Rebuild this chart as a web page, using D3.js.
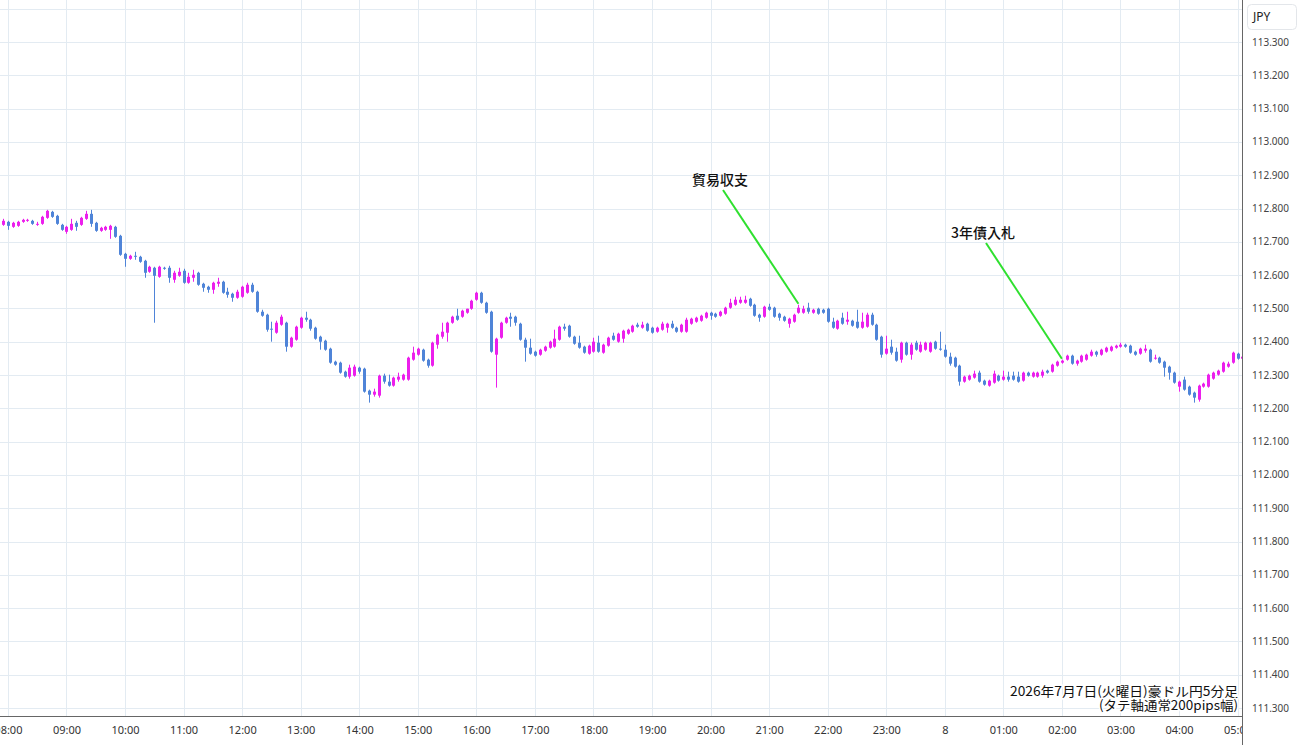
<!DOCTYPE html>
<html>
<head>
<meta charset="utf-8">
<title>AUD/JPY 5min</title>
<script src="https://d3js.org/d3.v7.min.js"></script>
<style>
  body { margin: 0; background: #fff; font-family: "Noto Sans", "Noto Sans CJK JP", sans-serif; }
  .grid line { stroke: #e3ebf2; stroke-width: 1; shape-rendering: crispEdges; }
  .xaxis text { fill: #333; font-size: 11px; font-family: "Noto Sans", sans-serif; }
  .price { fill: #444; font-size: 10px; }
  .note { font-family: "Noto Sans CJK JP", sans-serif; font-size: 14px; fill: #111; }
</style>
</head>
<body>
<div id="chart"></div>
<script>
const W = 1300, H = 745;
const plotRight = 1242, axisY = 716;

// 5 minute candles, first one at 07:55 on 2026-07-07
const startTime = new Date(2026, 6, 7, 7, 55);
const stepMinutes = 5;

const opens = [
  112.751,
  112.760,112.745,112.748,112.760,112.763,112.763,112.751,112.754,112.772,112.790,112.778,112.751,
  112.730,112.736,112.757,112.751,112.769,112.784,112.757,112.733,112.736,112.736,112.745,112.718,
  112.664,112.649,112.658,112.655,112.643,112.610,112.622,112.595,112.622,112.622,112.586,112.598,
  112.613,112.577,112.592,112.607,112.574,112.565,112.556,112.574,112.580,112.550,112.544,112.532,
  112.535,112.547,112.571,112.550,112.490,112.481,112.439,112.427,112.451,112.457,112.385,112.406,
  112.442,112.472,112.466,112.442,112.415,112.403,112.379,112.340,112.337,112.310,112.295,112.298,
  112.322,112.319,112.253,112.241,112.238,112.298,112.280,112.268,112.286,112.286,112.286,112.346,
  112.361,112.376,112.346,112.328,112.391,112.415,112.427,112.457,112.478,112.475,112.487,112.499,
  112.526,112.547,112.517,112.490,112.361,112.412,112.457,112.475,112.475,112.454,112.406,112.382,
  112.370,112.361,112.373,112.382,112.385,112.406,112.445,112.448,112.415,112.397,112.385,112.364,
  112.370,112.397,112.367,112.388,112.418,112.400,112.409,112.424,112.430,112.451,112.442,112.454,
  112.442,112.430,112.436,112.442,112.454,112.442,112.430,112.430,112.454,112.460,112.463,112.472,
  112.487,112.484,112.478,112.484,112.502,112.511,112.517,112.517,112.529,112.511,112.481,112.475,
  112.505,112.502,112.484,112.475,112.454,112.460,112.487,112.487,112.502,112.487,112.499,112.496,
  112.499,112.460,112.439,112.472,112.460,112.463,112.460,112.442,112.445,112.481,112.451,112.415,
  112.364,112.385,112.370,112.346,112.397,112.361,112.397,112.370,112.376,112.370,112.400,112.379,
  112.376,112.355,112.352,112.328,112.280,112.286,112.292,112.307,112.283,112.268,112.277,112.298,
  112.286,112.295,112.298,112.295,112.283,112.307,112.295,112.295,112.298,112.313,112.310,112.328,
  112.337,112.346,112.358,112.334,112.340,112.346,112.358,112.370,112.361,112.370,112.373,112.382,
  112.385,112.391,112.388,112.370,112.364,112.373,112.376,112.349,112.352,112.340,112.325,112.307,
  112.265,112.286,112.265,112.247,112.226,112.265,112.265,112.289,112.301,112.310,112.325,112.337,
  112.364,112.349
];
const highs = [
  112.769,
  112.763,112.760,112.763,112.769,112.769,112.766,112.760,112.778,112.796,112.793,112.781,112.754,
  112.748,112.769,112.763,112.775,112.793,112.796,112.760,112.745,112.748,112.751,112.748,112.721,
  112.667,112.661,112.670,112.658,112.646,112.628,112.625,112.628,112.625,112.628,112.613,112.622,
  112.619,112.607,112.616,112.610,112.577,112.568,112.580,112.592,112.583,112.562,112.547,112.556,
  112.568,112.577,112.577,112.553,112.496,112.484,112.460,112.463,112.481,112.460,112.415,112.448,
  112.475,112.490,112.469,112.445,112.418,112.406,112.382,112.343,112.340,112.313,112.331,112.331,
  112.325,112.322,112.256,112.259,112.301,112.304,112.301,112.295,112.307,112.304,112.355,112.385,
  112.382,112.379,112.349,112.400,112.424,112.457,112.460,112.478,112.499,112.496,112.499,112.526,
  112.550,112.550,112.520,112.493,112.412,112.460,112.475,112.487,112.478,112.457,112.412,112.409,
  112.373,112.379,112.388,112.403,112.436,112.448,112.454,112.451,112.418,112.418,112.388,112.391,
  112.412,112.418,112.394,112.415,112.427,112.427,112.436,112.439,112.451,112.457,112.460,112.457,
  112.445,112.445,112.460,112.457,112.463,112.445,112.454,112.472,112.472,112.475,112.481,112.490,
  112.490,112.487,112.493,112.505,112.529,112.535,112.535,112.538,112.532,112.514,112.484,112.508,
  112.514,112.505,112.487,112.478,112.472,112.484,112.511,112.508,112.517,112.499,112.502,112.499,
  112.502,112.472,112.466,112.487,112.490,112.466,112.496,112.487,112.487,112.487,112.454,112.418,
  112.418,112.406,112.382,112.400,112.400,112.397,112.403,112.400,112.400,112.400,112.403,112.430,
  112.391,112.367,112.355,112.331,112.298,112.301,112.313,112.313,112.286,112.286,112.313,112.301,
  112.313,112.310,112.310,112.310,112.310,112.310,112.310,112.310,112.316,112.316,112.334,112.343,
  112.346,112.361,112.361,112.346,112.361,112.364,112.376,112.373,112.379,112.385,112.388,112.391,
  112.397,112.394,112.391,112.373,112.382,112.391,112.379,112.361,112.355,112.343,112.328,112.310,
  112.283,112.295,112.268,112.250,112.271,112.277,112.304,112.310,112.316,112.340,112.340,112.370,
  112.367,112.358
];
const lows = [
  112.748,
  112.736,112.742,112.745,112.757,112.760,112.751,112.748,112.751,112.769,112.772,112.751,112.733,
  112.724,112.733,112.733,112.748,112.766,112.745,112.730,112.730,112.733,112.709,112.712,112.658,
  112.625,112.646,112.646,112.637,112.592,112.607,112.457,112.592,112.616,112.577,112.577,112.595,
  112.574,112.574,112.580,112.568,112.550,112.547,112.544,112.565,112.544,112.532,112.520,112.529,
  112.532,112.544,112.547,112.487,112.475,112.430,112.400,112.424,112.448,112.370,112.382,112.403,
  112.439,112.460,112.433,112.406,112.376,112.373,112.334,112.328,112.304,112.292,112.289,112.295,
  112.304,112.247,112.217,112.235,112.232,112.274,112.265,112.265,112.280,112.283,112.283,112.343,
  112.358,112.340,112.322,112.325,112.379,112.409,112.400,112.454,112.463,112.472,112.484,112.496,
  112.523,112.514,112.484,112.367,112.262,112.409,112.454,112.445,112.448,112.403,112.340,112.361,
  112.355,112.358,112.370,112.379,112.382,112.403,112.433,112.412,112.391,112.379,112.364,112.361,
  112.367,112.367,112.364,112.385,112.403,112.397,112.397,112.421,112.427,112.442,112.439,112.430,
  112.424,112.427,112.433,112.427,112.439,112.427,112.427,112.427,112.451,112.457,112.460,112.469,
  112.466,112.472,112.475,112.481,112.499,112.508,112.514,112.514,112.505,112.475,112.460,112.472,
  112.493,112.472,112.463,112.460,112.442,112.457,112.484,112.484,112.484,112.484,112.481,112.484,
  112.457,112.439,112.436,112.451,112.451,112.445,112.439,112.439,112.442,112.448,112.403,112.352,
  112.361,112.361,112.340,112.337,112.358,112.346,112.373,112.367,112.373,112.367,112.376,112.373,
  112.352,112.328,112.322,112.268,112.277,112.283,112.289,112.277,112.268,112.265,112.274,112.280,
  112.283,112.280,112.283,112.277,112.280,112.295,112.292,112.292,112.292,112.304,112.307,112.325,
  112.334,112.343,112.331,112.328,112.337,112.343,112.355,112.355,112.358,112.367,112.370,112.379,
  112.382,112.382,112.364,112.358,112.361,112.367,112.337,112.346,112.334,112.295,112.286,112.274,
  112.250,112.253,112.238,112.217,112.220,112.262,112.262,112.286,112.298,112.307,112.322,112.334,
  112.346,112.346
];
const closes = [
  112.763,
  112.748,112.757,112.760,112.766,112.766,112.754,112.754,112.775,112.793,112.775,112.754,112.736,
  112.745,112.754,112.745,112.772,112.784,112.754,112.733,112.742,112.745,112.748,112.715,112.661,
  112.649,112.658,112.655,112.640,112.607,112.625,112.598,112.625,112.619,112.592,112.607,112.610,
  112.577,112.595,112.601,112.571,112.562,112.556,112.577,112.580,112.547,112.541,112.532,112.550,
  112.565,112.571,112.550,112.490,112.478,112.436,112.436,112.457,112.475,112.385,112.412,112.445,
  112.472,112.466,112.439,112.409,112.400,112.376,112.337,112.331,112.307,112.295,112.322,112.325,
  112.310,112.250,112.241,112.250,112.298,112.280,112.268,112.292,112.295,112.301,112.352,112.367,
  112.379,112.343,112.328,112.397,112.421,112.430,112.457,112.475,112.466,112.493,112.499,112.523,
  112.547,112.517,112.487,112.370,112.409,112.457,112.472,112.469,112.457,112.406,112.382,112.364,
  112.358,112.376,112.385,112.400,112.409,112.445,112.439,112.415,112.394,112.382,112.367,112.388,
  112.400,112.370,112.391,112.412,112.406,112.424,112.433,112.436,112.448,112.445,112.451,112.433,
  112.427,112.442,112.454,112.454,112.442,112.430,112.451,112.466,112.469,112.472,112.478,112.487,
  112.478,112.475,112.490,112.502,112.517,112.526,112.526,112.526,112.508,112.478,112.472,112.505,
  112.496,112.475,112.472,112.463,112.469,112.481,112.502,112.499,112.490,112.496,112.484,112.487,
  112.460,112.442,112.463,112.454,112.466,112.448,112.442,112.460,112.481,112.451,112.406,112.361,
  112.379,112.367,112.343,112.397,112.361,112.391,112.376,112.391,112.397,112.397,112.379,112.376,
  112.355,112.334,112.325,112.280,112.295,112.298,112.304,112.280,112.271,112.283,112.304,112.283,
  112.295,112.286,112.286,112.280,112.307,112.298,112.307,112.307,112.310,112.307,112.331,112.340,
  112.343,112.358,112.334,112.343,112.358,112.361,112.370,112.361,112.376,112.382,112.385,112.388,
  112.391,112.385,112.367,112.361,112.379,112.379,112.340,112.352,112.337,112.322,112.307,112.277,
  112.280,112.256,112.241,112.232,112.268,112.274,112.301,112.307,112.313,112.337,112.334,112.367,
  112.349,112.355
];

// event notes
const noteLabels = ["貿易収支", "3年債入札"];
const noteTimes = [new Date(2026, 6, 7, 21, 30), new Date(2026, 6, 8, 2, 0)];

const titleLines = ["2026年7月7日(火曜日)豪ドル円5分足", "(タテ軸通常200pips幅)"];

const candles = opens.map((o, i) => ({
  t: d3.timeMinute.offset(startTime, i * stepMinutes),
  o: o, h: highs[i], l: lows[i], c: closes[i]
}));

const x = d3.scaleTime()
  .domain([new Date(2026, 6, 7, 8, 0), new Date(2026, 6, 8, 4, 0)])
  .range([7.9, 1179]);
const y = d3.scaleLinear().domain([111.3, 113.3]).range([708, 42]);

const svg = d3.select("#chart").append("svg")
  .attr("width", W).attr("height", H)
  .style("display", "block");

const defs = svg.append("defs");
defs.append("clipPath").attr("id", "plotClip")
  .append("rect").attr("x", 0).attr("y", 0).attr("width", plotRight).attr("height", axisY);
defs.append("clipPath").attr("id", "axisClip")
  .append("rect").attr("x", 0).attr("y", 0).attr("width", plotRight).attr("height", H);

// grid
const hourTicks = d3.timeHour.range(new Date(2026, 6, 7, 8), new Date(2026, 6, 8, 5, 1));
const priceTicks = d3.range(0, 22).map(i => +(111.3 + i * 0.1).toFixed(1));

const grid = svg.append("g").attr("class", "grid").attr("clip-path", "url(#plotClip)");
grid.selectAll(".h").data(priceTicks).join("line")
  .attr("x1", 0).attr("x2", plotRight)
  .attr("y1", d => Math.round(y(d)) + 0.5).attr("y2", d => Math.round(y(d)) + 0.5);
grid.selectAll(".v").data(hourTicks).join("line")
  .attr("y1", 0).attr("y2", axisY)
  .attr("x1", d => Math.round(x(d)) + 0.5).attr("x2", d => Math.round(x(d)) + 0.5);

// candles
const upCol = "#ec1fec", downCol = "#4f84d8";
const cg = svg.append("g").attr("clip-path", "url(#plotClip)");
const cs = cg.selectAll("g.candle").data(candles).join("g").attr("class", "candle");
cs.append("line")
  .attr("x1", d => Math.round(x(d.t)) + 0.5).attr("x2", d => Math.round(x(d.t)) + 0.5)
  .attr("y1", d => y(d.h)).attr("y2", d => y(d.l))
  .attr("stroke", d => d.c >= d.o ? upCol : downCol).attr("stroke-width", 1);
cs.append("rect")
  .attr("x", d => Math.round(x(d.t)) - 1)
  .attr("width", 3)
  .attr("y", d => y(Math.max(d.o, d.c)))
  .attr("height", d => Math.max(1, Math.abs(y(d.o) - y(d.c))))
  .attr("fill", d => d.c >= d.o ? upCol : downCol);

// axes
svg.append("line").attr("x1", 0).attr("x2", plotRight).attr("y1", axisY + 0.5).attr("y2", axisY + 0.5)
  .attr("stroke", "#666");
svg.append("line").attr("x1", plotRight + 0.5).attr("x2", plotRight + 0.5).attr("y1", 0).attr("y2", H)
  .attr("stroke", "#666");

const fmt = d3.timeFormat("%H:%M");
const xa = svg.append("g").attr("class", "xaxis")
  .attr("clip-path", "url(#axisClip)")
  .append("g")
  .attr("transform", `translate(0,${axisY})`)
  .call(d3.axisBottom(x).tickValues(hourTicks).tickSize(0).tickPadding(10)
    .tickFormat(d => d.getHours() === 0 ? String(d.getDate()) : fmt(d)));
xa.select(".domain").remove();
xa.selectAll("text").attr("fill", "#333").style("font-size", "11px");

svg.append("g").selectAll("text").data(priceTicks.filter(p => p <= 113.3)).join("text")
  .attr("class", "price")
  .attr("x", 1252).attr("y", d => y(d)).attr("dy", "0.35em")
  .text(d => d3.format(".3f")(d));

// currency box
svg.append("rect").attr("x", 1247.5).attr("y", 4.5).attr("width", 49).attr("height", 25).attr("rx", 4)
  .attr("fill", "#fff").attr("stroke", "#e3e6ea");
svg.append("text").attr("x", 1253).attr("y", 17).attr("dy", "0.35em")
  .style("font-size", "12px").attr("fill", "#222").text("JPY");

// event notes
const notePos = [[720, 180], [983, 233]];
noteLabels.forEach((lab, i) => {
  const d = candles.find(c => +c.t === +noteTimes[i]);
  const [tx, ty] = notePos[i];
  svg.append("line")
    .attr("x1", tx + 3).attr("y1", ty + 10)
    .attr("x2", x(d.t)).attr("y2", y(d.h) - 1)
    .attr("stroke", "#2fe02f").attr("stroke-width", 2);
  svg.append("text").attr("class", "note")
    .attr("x", tx).attr("y", ty).attr("dy", "0.35em")
    .attr("text-anchor", "middle").attr("font-weight", 500).text(lab);
});

// caption bottom right
const capWidths = [228, 139];
svg.append("g").selectAll("text").data(titleLines).join("text")
  .attr("class", "note")
  .style("font-size", "13px")
  .attr("x", (d, i) => 1238 - capWidths[i]).attr("y", (d, i) => 691 + i * 14.5).attr("dy", "0.35em")
  .attr("textLength", (d, i) => capWidths[i]).attr("lengthAdjust", "spacingAndGlyphs")
  .attr("stroke", "#fff").attr("stroke-width", 3).attr("paint-order", "stroke")
  .text(d => d);
</script>
</body>
</html>
